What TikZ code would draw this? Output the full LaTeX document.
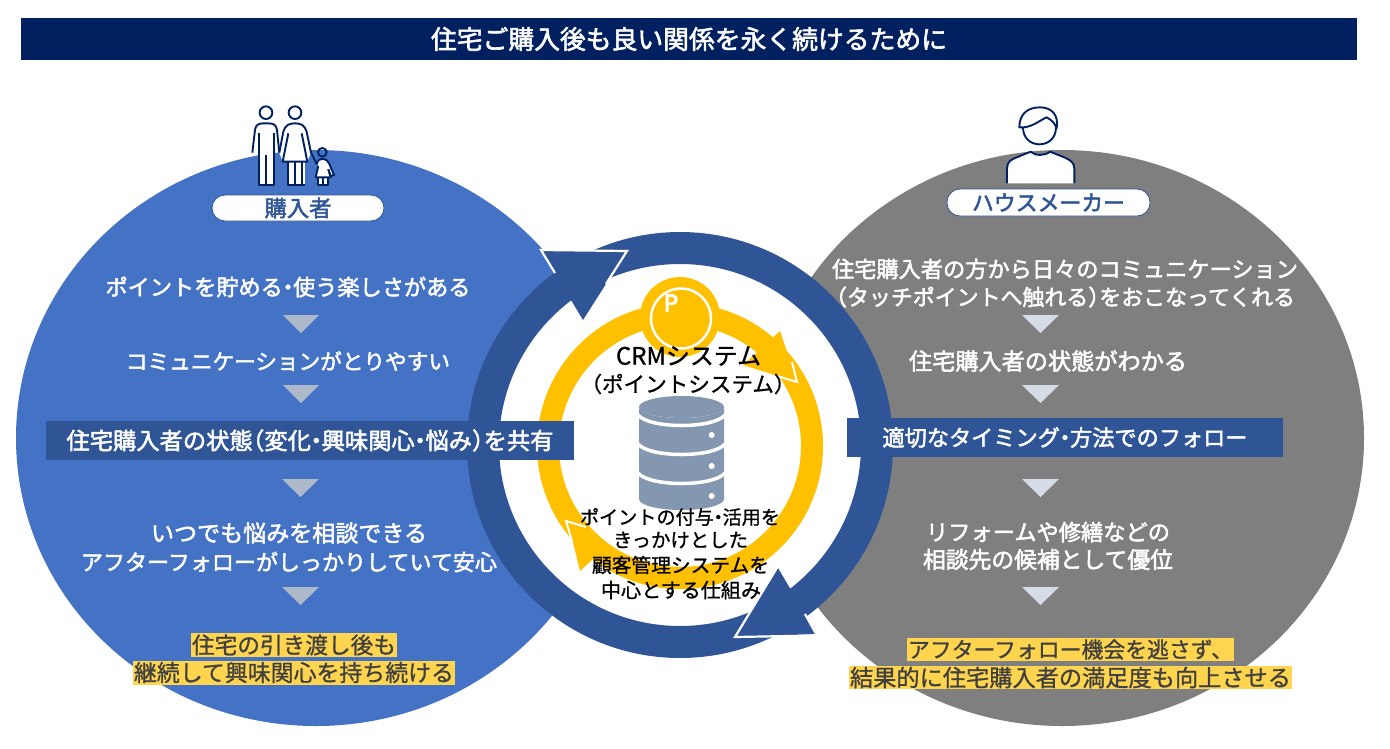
\documentclass[tikz,border=0pt]{standalone}
\usepackage{graphicx}
\usepackage{fontspec}
\setmainfont{Noto Sans CJK JP}[FakeBold=2.2]
\newfontfamily\jpplain{Noto Sans CJK JP}[FakeBold=4]
\newfontfamily\jplight{Noto Sans CJK JP}[FakeBold=1]
\definecolor{navy}{HTML}{002060}
\definecolor{ringblue}{HTML}{2F5597}
\definecolor{circblue}{HTML}{4472C4}
\definecolor{circgray}{HTML}{7F7F7F}
\definecolor{amber}{HTML}{FFC000}
\definecolor{hlyellow}{HTML}{FFD54F}
\definecolor{hltext}{HTML}{404040}
\definecolor{dbblue}{HTML}{8497B0}
\definecolor{triL}{HTML}{ADB9CA}
\definecolor{triR}{HTML}{D6DCE5}
\newcommand\fitw[2]{\resizebox{#1pt}{!}{#2}}
\newcommand\dotm{\kern-.27em・\kern-.27em}
\newcommand\lp{\kern-.5em（}
\newcommand\rp{）\kern-.5em}
\tikzset{
  lbl/.style={inner sep=0pt,font=\fontsize{21pt}{24pt}\selectfont,text=white},
  dark/.style={inner sep=0pt,font=\jplight\fontsize{21pt}{24pt}\selectfont,text=black},
  hl/.style={lbl,font=\jplight\fontsize{21pt}{24pt}\selectfont,text=hltext,fill=hlyellow},
  band/.style={lbl,fill=ringblue},
  pill/.style={inner sep=0pt,rounded corners=13pt,draw=ringblue,line width=.8pt,fill=white,text=ringblue,font=\fontsize{21pt}{24pt}\selectfont},
  ic/.style={draw=navy,line width=1.9pt,line join=round},
  icf/.style={fill=white},
}
\begin{document}
\begin{tikzpicture}[x=1pt,y=-1pt]
\useasboundingbox (0,0) rectangle (1390,748);
% header
\node[lbl,fill=navy,minimum width=1336pt,minimum height=42pt] (title) at (689,39) {\fitw{516}{住宅ご購入後も良い関係を永く続けるために}};
% big circles
\fill[circblue] (316,438) ellipse [x radius=300,y radius=288];
\fill[circgray] (1062,438) ellipse [x radius=302,y radius=288];
% central ring
\fill[white] (680,445) circle [radius=197];
\draw[ringblue,line width=32pt] (680,445) circle [radius=197];
% ring arrowheads
\fill[ringblue] (541,250) -- (627,251) -- (583,320) -- cycle;
\draw[white,line width=2.2pt,line join=miter] (555,273) -- (541,250) -- (627,251) -- (606,284);
\fill[ringblue] (778,568) -- (817,634) -- (735,637) -- cycle;
\draw[white,line width=2.2pt,line join=miter] (778,566) -- (735,637) -- (817,635.5) -- (805,614);
% amber ring
\draw[amber,line width=22pt] (680,446) circle [radius=132];
\fill[amber] (780,331) -- (797,382) -- (743,365) -- cycle;
\draw[white,line width=2pt,line join=miter] (792,362) -- (797,382) -- (777,376);
\fill[amber] (568,522) -- (580,571) -- (607,546) -- cycle;
\draw[white,line width=2pt,line join=miter] (572,541) -- (566,521) -- (586,527);
\fill[amber] (680,317) circle [radius=40];
\draw[white,line width=2.5pt] (681,318.5) circle [radius=30];
\node[inner sep=0pt,text=white,font=\jpplain\fontsize{23pt}{26pt}\selectfont] (pmark) at (671,303) {P};
% database
\fill[dbblue] (639,407) arc [start angle=180,end angle=360,x radius=42.5,y radius=-11] -- (724,499) arc [start angle=0,end angle=180,x radius=42.5,y radius=11] -- cycle;
\fill[dbblue] (681.5,407) ellipse [x radius=42.5,y radius=11];
\foreach \yy in {415,444,473}{
  \draw[white,line width=3.5pt] (638,\yy) .. controls (650,\yy+14) and (713,\yy+14) .. (725,\yy);
}
\foreach \yy in {435,466,496}{ \fill[white] (711.7,\yy) circle [radius=3]; }
% centre texts
\node[dark] (crm1) at (688.5,356) {\fitw{145}{CRMシステム}};
\node[dark] (crm2) at (688,384) {\fitw{215}{（ポイントシステム）}};
\node[dark] (d1) at (680,517) {\fitw{200}{ポイントの付与\dotm 活用を}};
\node[dark] (d2) at (680.5,540) {\fitw{135}{きっかけとした}};
\node[dark] (d3) at (680.5,565) {\fitw{177}{顧客管理システムを}};
\node[dark] (d4) at (681,590) {\fitw{160}{中心とする仕組み}};
% left column
\node[lbl] (l1) at (288,287) {\fitw{365}{ポイントを貯める\dotm 使う楽しさがある}};
\fill[triL] (283,315) -- (319,315) -- (301,333) -- cycle;
\node[lbl] (l2) at (288,361) {\fitw{324}{コミュニケーションがとりやすい}};
\fill[triL] (283,385) -- (319,385) -- (301,403) -- cycle;
\node[band,minimum width=528pt,minimum height=39pt] (l3) at (310,440.5) {\fitw{487}{住宅購入者の状態\lp 変化\dotm 興味関心\dotm 悩み\rp を共有}};
\fill[triL] (282,479) -- (319,479) -- (300.5,497) -- cycle;
\node[lbl] (l4a) at (289,533) {\fitw{276}{いつでも悩みを相談できる}};
\node[lbl] (l4b) at (289,562) {\fitw{416}{アフターフォローがしっかりしていて安心}};
\fill[triL] (282,587) -- (319,587) -- (300.5,605) -- cycle;
\node[hl,minimum width=206pt,minimum height=24pt] (l5a) at (294,645) {\fitw{204}{住宅の引き渡し後も}};
\node[hl,minimum width=322pt,minimum height=24pt] (l5b) at (294,672.5) {\fitw{320}{継続して興味関心を持ち続ける}};
% right column
\node[lbl] (r1a) at (1065,269) {\fitw{466}{住宅購入者の方から日々のコミュニケーション}};
\node[lbl] (r1b) at (1065.5,297) {\fitw{459}{\lp タッチポイントへ触れる\rp をおこなってくれる}};
\fill[triR] (1022,315) -- (1059,315) -- (1040.5,333) -- cycle;
\node[lbl] (r2) at (1048,361) {\fitw{278}{住宅購入者の状態がわかる}};
\fill[triR] (1022,385) -- (1059,385) -- (1040.5,403) -- cycle;
\node[band,minimum width=436pt,minimum height=39pt] (r3) at (1065,437.5) {\fitw{365}{適切なタイミング\dotm 方法でのフォロー}};
\fill[triR] (1022,479) -- (1059,479) -- (1040.5,497) -- cycle;
\node[lbl] (r4a) at (1048,532) {\fitw{244}{リフォームや修繕などの}};
\node[lbl] (r4b) at (1048,559.5) {\fitw{250}{相談先の候補として優位}};
\fill[triR] (1022,587) -- (1059,587) -- (1040.5,605) -- cycle;
\node[hl,minimum width=327pt,minimum height=23pt] (r5a) at (1070.5,649.5) {\fitw{325}{アフターフォロー機会を逃さず、}};
\node[hl,minimum width=443pt,minimum height=23pt] (r5b) at (1070.5,677.5) {\fitw{441}{結果的に住宅購入者の満足度も向上させる}};
% family icon
\begin{scope}[shift={(200,90)},x=.3333pt,y=-.3333pt]
  \fill[icf] (157,188) -- (165,120) .. controls (167,105) and (175,100) .. (190,100) -- (205,100) .. controls (222,100) and (228,105) .. (231,120) -- (238,188) -- (222,188) -- (222,285) -- (176,285) -- (176,188) -- cycle;
  \draw[ic] (198,68) circle [radius=19];
  \draw[ic] (157,188) -- (165,120) .. controls (167,105) and (175,100) .. (190,100) -- (205,100) .. controls (222,100) and (228,105) .. (231,120) -- (238,188);
  \draw[ic] (176,130) -- (176,285) -- (222,285) -- (222,130);
  \draw[ic] (198,195) -- (198,285);
  \fill[icf] (238,188) -- (250,125) .. controls (256,105) and (268,100) .. (285,100) .. controls (302,100) and (314,105) .. (320,125) -- (333,188) -- (322,215) -- (315,215) -- (315,285) -- (263,285) -- (263,215) -- (248,215) -- cycle;
  \draw[ic] (285,68) circle [radius=19];
  \draw[ic] (238,188) -- (250,125) .. controls (256,105) and (268,100) .. (285,100) .. controls (302,100) and (314,105) .. (320,125) -- (333,188);
  \draw[ic] (265,130) -- (248,215) -- (322,215) -- (305,130);
  \draw[ic] (263,215) -- (263,285) -- (315,285);
  \draw[ic] (285,215) -- (285,285);
  \draw[ic] (305,215) -- (305,285);
  \fill[icf] (330,185) -- (350,222) .. controls (355,208) and (360,207) .. (367,207) .. controls (380,207) and (385,215) .. (388,222) -- (402,255) -- (392,258) -- (392,262) -- (383,262) -- (383,285) -- (353,285) -- (353,262) -- (347,262) -- (355,225) -- cycle;
  \draw[ic] (367,187) circle [radius=13];
  \draw[ic] (332,185) -- (350,222) .. controls (355,208) and (360,207) .. (367,207) .. controls (380,207) and (385,215) .. (388,222) -- (402,255) -- (392,258) -- (385,238);
  \draw[ic] (355,228) -- (347,262) -- (392,262) -- (385,238);
  \draw[ic] (353,262) -- (353,285) -- (383,285) -- (383,262);
  \draw[ic] (368,262) -- (368,285);
\end{scope}
% maker icon
\begin{scope}[shift={(930,90)},x=.3333pt,y=-.3333pt]
  \draw[ic,fill=white] (231,280) -- (231,235) .. controls (231,215) and (245,208) .. (258,203) -- (302,185) .. controls (315,198) and (345,198) .. (360,185) -- (405,203) .. controls (420,210) and (433,218) .. (433,235) -- (433,280);
  \draw[ic] (279,112) .. controls (279,180) and (378,180) .. (378,112);
  \draw[ic,fill=white] (268,112) .. controls (268,70) and (295,52) .. (330,52) .. controls (365,52) and (387,75) .. (380,115) .. controls (375,100) and (365,90) .. (350,82) .. controls (330,90) and (305,115) .. (268,112) -- cycle;
\end{scope}
% pills
\node[pill,minimum width=172pt,minimum height=26pt] (buyer) at (298,208) {\fitw{67}{購入者}};
\node[pill,minimum width=203pt,minimum height=27pt] (maker) at (1048.5,202.5) {\fitw{153}{ハウスメーカー}};
\end{tikzpicture}
\end{document}
